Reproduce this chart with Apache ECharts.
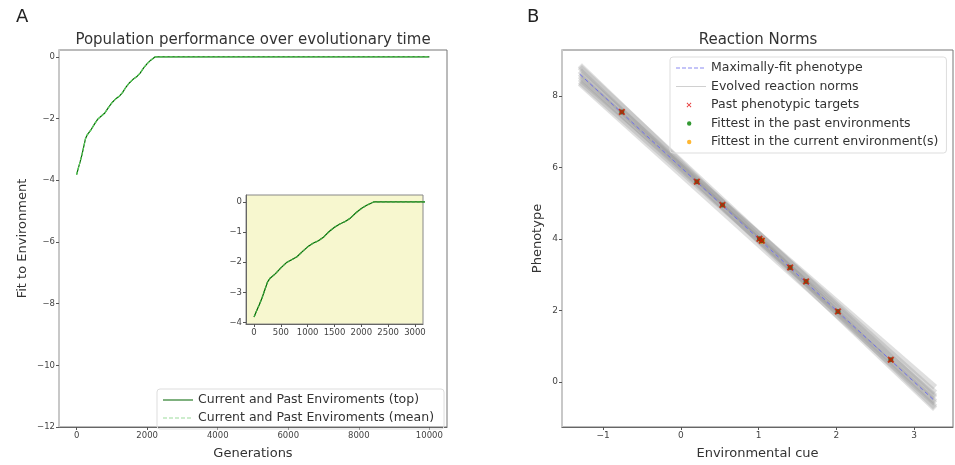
<!DOCTYPE html>
<html>
<head>
<meta charset="utf-8">
<script src="https://cdn.jsdelivr.net/npm/echarts@6/dist/echarts.min.js"></script>
<style>
  html, body { margin: 0; background: #fff; }
  #chart { width: 955px; height: 465px; }
</style>
</head>
<body>
<div id="chart"></div>
<script>
// --- panel A: population fitness over generations ---
const generations = [0, 50, 100, 150, 200, 250, 300, 400, 500, 600, 700, 800, 900, 1000, 1100, 1200, 1300,
  1400, 1500, 1600, 1700, 1800, 1900, 2000, 2100, 2230, 2500, 3000, 5000, 10000]
const fitTop = [-3.82, -3.6, -3.4, -3.18, -2.92, -2.66, -2.53, -2.38, -2.19, -2.02, -1.92, -1.82, -1.65, -1.49,
  -1.37, -1.29, -1.16, -0.98, -0.84, -0.73, -0.65, -0.53, -0.36, -0.22, -0.11, 0, 0, 0, 0, 0]
const fitMean = [-3.82, -3.6, -3.4, -3.18, -2.92, -2.66, -2.53, -2.38, -2.19, -2.02, -1.92, -1.82, -1.65, -1.49,
  -1.37, -1.29, -1.16, -0.98, -0.84, -0.73, -0.65, -0.53, -0.36, -0.22, -0.11, 0, 0, 0, 0, 0]
const mainTicksX = [0, 2000, 4000, 6000, 8000, 10000]
const mainTicksY = [0, -2, -4, -6, -8, -10, -12]
const insetTicksX = [0, 500, 1000, 1500, 2000, 2500, 3000]
const insetTicksY = [0, -1, -2, -3, -4]

// --- panel B: reaction norms ---
const cueEnds = [-1.3, 3.27]
const maxFitPhenotype = [8.6, -0.54]
const normStart = [8.85, 8.80, 8.70, 8.62, 8.55, 8.48, 8.40, 8.35]
const normEnd = [-0.70, -0.45, -0.75, -0.30, -0.55, -0.15, -0.40, -0.60]
const pastCues = [-0.76, 0.205, 0.534, 1.01, 1.04, 1.405, 1.61, 2.02, 2.70]
const pastTargets = [7.55, 5.6, 4.95, 4.0, 3.95, 3.2, 2.81, 1.97, 0.62]
const fittestPast = [7.55, 5.6, 4.95, 4.0, 3.95, 3.2, 2.81, 1.97, 0.62]
const currentCues = [1.04]
const fittestCurrent = [3.95]
const bTicksX = [-1, 0, 1, 2, 3]
const bTicksY = [0, 2, 4, 6, 8]

const FONT = 'DejaVu Sans'
const TOP_NAME = 'Current and Past Enviroments (top)'
const MEAN_NAME = 'Current and Past Enviroments (mean)'

// legend icons drawn in a 30x10 box (corner specks keep the box size)
const BOX = 'M0,0h0.01v0.01h-0.01zM30,10h-0.01v-0.01h0.01z'
const lineIcon = 'path://' + BOX + 'M0,4.4h30v1.2h-30z'
const dashIcon = 'path://' + BOX + 'M0,4.5h4v1h-4zM6,4.5h4v1h-4zM12,4.5h4v1h-4zM18,4.5h4v1h-4zM24,4.5h4v1h-4z'
const dotIcon = 'path://' + BOX + 'M11,5a2.2,2.2 0 1,0 4.4,0a2.2,2.2 0 1,0 -4.4,0z'
const crossIcon = 'path://' + BOX + 'M10.6,3.2L11.2,2.6L13,4.4L14.8,2.6L15.4,3.2L13.6,5L15.4,6.8L14.8,7.4L13,5.6L11.2,7.4L10.6,6.8L12.4,5z'
const crossSymbol = 'path://M0,2L2,0L5,3L8,0L10,2L7,5L10,8L8,10L5,7L2,10L0,8L3,5Z'

const minus = v => String(v).replace('-', '\u2212')
const pairs = (xs, ys) => xs.map((x, i) => [x, ys[i]])

function valAxis(gridIndex, min, max, ticks, fontSize, extra) {
  return Object.assign({
    type: 'value', gridIndex, min, max,
    splitLine: { show: false },
    axisLine: { show: true, onZero: false, lineStyle: { color: '#666', width: 1 } },
    axisTick: { show: true, length: 3, lineStyle: { color: '#555' }, customValues: ticks },
    axisLabel: { fontSize, color: '#444', fontFamily: FONT, margin: 4, formatter: minus, customValues: ticks },
    nameTextStyle: { fontSize: 13, color: '#333', fontFamily: FONT },
    nameLocation: 'middle'
  }, extra || {})
}

const chart = echarts.init(document.getElementById('chart'))

const series = [
  { name: TOP_NAME, type: 'line', xAxisIndex: 0, yAxisIndex: 0, data: pairs(generations, fitTop),
    showSymbol: false, lineStyle: { color: '#006400', width: 1.2 } },
  { name: MEAN_NAME, type: 'line', xAxisIndex: 0, yAxisIndex: 0, data: pairs(generations, fitMean),
    showSymbol: false, lineStyle: { color: '#5ccf5c', width: 1.2, type: [3, 2] } },
  { name: TOP_NAME, type: 'line', xAxisIndex: 1, yAxisIndex: 1, data: pairs(generations, fitTop),
    showSymbol: false, lineStyle: { color: '#006400', width: 1.2 } },
  { name: MEAN_NAME, type: 'line', xAxisIndex: 1, yAxisIndex: 1, data: pairs(generations, fitMean),
    showSymbol: false, lineStyle: { color: '#3fa83f', width: 1.2, type: [3, 2] } }
]

normStart.forEach((y0, i) => {
  series.push({
    name: 'Evolved reaction norms', type: 'line', xAxisIndex: 2, yAxisIndex: 2,
    data: pairs(cueEnds, [y0, normEnd[i]]), showSymbol: false, z: 1,
    lineStyle: { color: 'rgba(150,150,150,0.3)', width: 6 }
  })
})

series.push(
  { name: 'Maximally-fit phenotype', type: 'line', xAxisIndex: 2, yAxisIndex: 2,
    data: pairs(cueEnds, maxFitPhenotype), showSymbol: false, z: 3,
    lineStyle: { color: '#6f6fef', width: 1, type: [4, 3] } },
  { name: 'Fittest in the current environment(s)', type: 'scatter', xAxisIndex: 2, yAxisIndex: 2,
    data: pairs(currentCues, fittestCurrent), symbol: 'circle', symbolSize: 6, z: 4,
    itemStyle: { color: '#ffa500' } },
  { name: 'Fittest in the past environments', type: 'scatter', xAxisIndex: 2, yAxisIndex: 2,
    data: pairs(pastCues, fittestPast), symbol: 'circle', symbolSize: 5, z: 5,
    itemStyle: { color: '#1a6a1a' } },
  { name: 'Past phenotypic targets', type: 'scatter', xAxisIndex: 2, yAxisIndex: 2,
    data: pairs(pastCues, pastTargets), symbol: crossSymbol, symbolSize: 7, z: 6,
    itemStyle: { color: '#c81e00' } }
)

const legendText = { fontSize: 12.5, color: '#333', fontFamily: FONT, lineHeight: 14 }

const option = {
  animation: false,
  backgroundColor: '#fff',
  textStyle: { fontFamily: FONT },
  title: [
    { text: 'A', left: 16, top: 8, padding: 0, textStyle: { fontSize: 18, fontWeight: 'normal', color: '#222' } },
    { text: 'Population performance over evolutionary time', left: 253, top: 33, padding: 0, textAlign: 'center',
      textStyle: { fontSize: 15, fontWeight: 'normal', color: '#333' } },
    { text: 'B', left: 527, top: 8, padding: 0, textStyle: { fontSize: 18, fontWeight: 'normal', color: '#222' } },
    { text: 'Reaction Norms', left: 758, top: 33, padding: 0, textAlign: 'center',
      textStyle: { fontSize: 15, fontWeight: 'normal', color: '#333' } }
  ],
  grid: [
    { left: 59, top: 50, width: 388, height: 386, show: true, borderColor: '#777', borderWidth: 1 },
    { left: 246, top: 195, width: 177, height: 129, show: true, backgroundColor: '#f7f7cf', borderColor: '#888', borderWidth: 1 },
    { left: 562, top: 50, width: 391, height: 386, show: true, borderColor: '#777', borderWidth: 1 }
  ],
  xAxis: [
    valAxis(0, -500, 10500, mainTicksX, 8.5, { name: 'Generations', nameGap: 20 }),
    valAxis(1, -150, 3150, insetTicksX, 8.5),
    valAxis(2, -1.53, 3.5, bTicksX, 9, { name: 'Environmental cue', nameGap: 20 })
  ],
  yAxis: [
    valAxis(0, -12, 0.22, mainTicksY, 8.5, { name: 'Fit to Environment', nameGap: 30,
      axisLine: { show: true, onZero: false, lineStyle: { color: '#c8c8c8', width: 2 } } }),
    valAxis(1, -4.05, 0.23, insetTicksY, 8.5),
    valAxis(2, -1.26, 9.28, bTicksY, 9, { name: 'Phenotype', nameGap: 18,
      axisLine: { show: true, onZero: false, lineStyle: { color: '#c8c8c8', width: 2 } } })
  ],
  legend: [
    { left: 157, top: 389, orient: 'vertical', selectedMode: false,
      itemWidth: 30, itemHeight: 10, itemGap: 4, padding: [4, 10, 4, 6],
      borderColor: '#ddd', borderWidth: 1, borderRadius: 3, textStyle: legendText,
      data: [
        { name: TOP_NAME, icon: lineIcon, itemStyle: { color: '#006400' } },
        { name: MEAN_NAME, icon: dashIcon, itemStyle: { color: '#9bdc9b' } }
      ] },
    { left: 670, top: 57, orient: 'vertical', selectedMode: false,
      itemWidth: 30, itemHeight: 10, itemGap: 4.5, padding: [4, 8, 4, 6],
      borderColor: '#ddd', borderWidth: 1, borderRadius: 3, textStyle: legendText,
      data: [
        { name: 'Maximally-fit phenotype', icon: dashIcon, itemStyle: { color: '#8a8af2' } },
        { name: 'Evolved reaction norms', icon: lineIcon, itemStyle: { color: '#d0d0d0' } },
        { name: 'Past phenotypic targets', icon: crossIcon, itemStyle: { color: '#e00000' } },
        { name: 'Fittest in the past environments', icon: dotIcon, itemStyle: { color: '#008000' } },
        { name: 'Fittest in the current environment(s)', icon: dotIcon, itemStyle: { color: '#ffa500' } }
      ] }
  ],
  series
}

chart.setOption(option)
</script>
</body>
</html>
